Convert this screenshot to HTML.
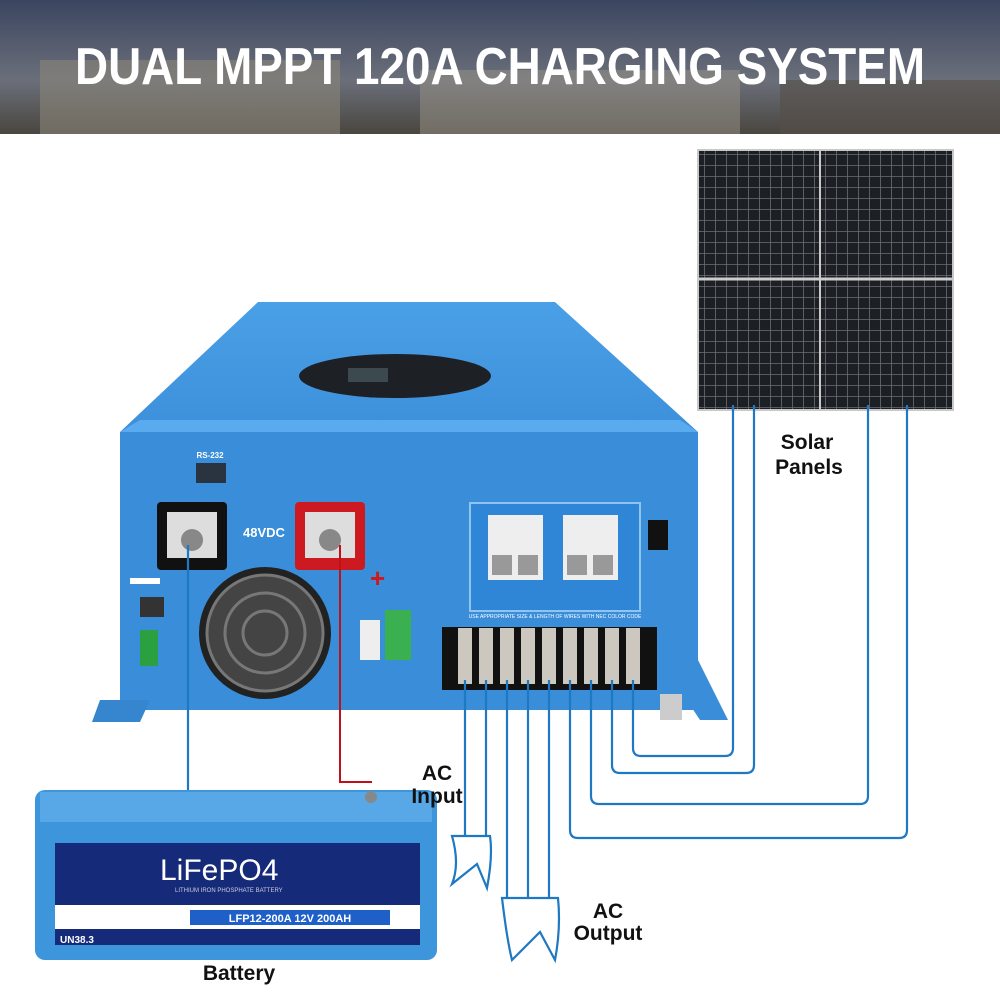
<!DOCTYPE html>
<html><head><style>
body{margin:0;width:1000px;height:1000px;overflow:hidden;background:#fff;font-family:"Liberation Sans",sans-serif}
</style></head><body>
<svg width="1000" height="1000" viewBox="0 0 1000 1000" xmlns="http://www.w3.org/2000/svg">
<defs>
<linearGradient id="sky" x1="0" y1="0" x2="0" y2="1"><stop offset="0" stop-color="#3a4560"/><stop offset="0.6" stop-color="#6b6f7a"/><stop offset="1" stop-color="#4a4640"/></linearGradient>
<linearGradient id="top" x1="0" y1="0" x2="0" y2="1"><stop offset="0" stop-color="#4aa0e6"/><stop offset="1" stop-color="#3d8fda"/></linearGradient>
<pattern id="cells" width="11" height="11" patternUnits="userSpaceOnUse"><rect width="11" height="11" fill="#1c1f24"/><path d="M0 0.5H11M0.5 0V11" stroke="#6a6e75" stroke-width="0.8"/></pattern>
</defs>
<rect width="1000" height="134" fill="url(#sky)"/>
<rect x="40" y="60" width="300" height="74" fill="#8a8578" opacity="0.6"/>
<rect x="420" y="70" width="320" height="64" fill="#9a9488" opacity="0.5"/>
<rect x="780" y="80" width="220" height="54" fill="#554f48" opacity="0.6"/>
<text x="75" y="84" textLength="850" lengthAdjust="spacingAndGlyphs" font-size="52" font-weight="bold" fill="#fff">DUAL MPPT 120A CHARGING SYSTEM</text>

<!-- solar panels -->
<rect x="698" y="150" width="122" height="260" fill="url(#cells)" stroke="#c8c8c8" stroke-width="2"/>
<rect x="820" y="150" width="133" height="260" fill="url(#cells)" stroke="#c8c8c8" stroke-width="2"/>
<line x1="698" y1="279" x2="953" y2="279" stroke="#ccc" stroke-width="3"/>

<!-- inverter -->
<polygon points="258,302 555,302 698,432 120,432" fill="url(#top)"/>
<polygon points="140,420 680,420 698,432 120,432" fill="#5aaaf0"/>
<ellipse cx="395" cy="376" rx="96" ry="22" fill="#1d2024"/>
<rect x="348" y="368" width="40" height="14" fill="#3c4a50"/>
<rect x="120" y="432" width="578" height="278" fill="#3a8dd9"/>
<polygon points="120,650 150,650 140,700 120,700" fill="#3a8dd9"/>
<polygon points="680,690 698,660 728,720 700,720" fill="#3a8dd9"/>
<polygon points="100,700 150,700 140,722 92,722" fill="#3585cf"/>
<rect x="196" y="463" width="30" height="20" fill="#2a3440"/>
<text x="210" y="458" text-anchor="middle" font-size="8" font-weight="bold" fill="#fff">RS-232</text>
<rect x="157" y="502" width="70" height="68" rx="4" fill="#111"/>
<rect x="167" y="512" width="50" height="46" fill="#ddd"/>
<circle cx="192" cy="540" r="11" fill="#888"/>
<rect x="295" y="502" width="70" height="68" rx="4" fill="#cc1a20"/>
<rect x="305" y="512" width="50" height="46" fill="#ddd"/>
<circle cx="330" cy="540" r="11" fill="#888"/>
<text x="243" y="537" font-size="13" font-weight="bold" fill="#fff">48VDC</text>
<text x="370" y="587" font-size="26" font-weight="bold" fill="#d01818">+</text>
<rect x="130" y="578" width="30" height="6" fill="#fff"/>
<rect x="140" y="597" width="24" height="20" fill="#333"/>
<rect x="140" y="630" width="18" height="36" fill="#2aa040"/>
<rect x="385" y="610" width="26" height="50" fill="#3ab050"/>
<rect x="360" y="620" width="20" height="40" fill="#eee"/>
<circle cx="265" cy="633" r="66" fill="#222"/>
<circle cx="265" cy="633" r="58" fill="#444" stroke="#777" stroke-width="3"/>
<circle cx="265" cy="633" r="40" fill="none" stroke="#777" stroke-width="3"/>
<circle cx="265" cy="633" r="22" fill="none" stroke="#777" stroke-width="3"/>
<!-- breakers -->
<rect x="470" y="503" width="170" height="108" fill="#2f86d6" stroke="#8fc4f0" stroke-width="2"/>
<rect x="488" y="515" width="55" height="65" fill="#eee"/>
<rect x="563" y="515" width="55" height="65" fill="#eee"/>
<rect x="492" y="555" width="20" height="20" fill="#999"/><rect x="518" y="555" width="20" height="20" fill="#999"/>
<rect x="567" y="555" width="20" height="20" fill="#999"/><rect x="593" y="555" width="20" height="20" fill="#999"/>
<rect x="648" y="520" width="20" height="30" fill="#111"/>
<text x="555" y="618" text-anchor="middle" font-size="5" fill="#fff">USE APPROPRIATE SIZE &amp; LENGTH OF WIRES WITH NEC COLOR CODE</text>
<!-- terminals -->
<rect x="442" y="627" width="215" height="63" fill="#111"/>
<g fill="#ccc8c0">
<rect x="458" y="628" width="14" height="56"/><rect x="479" y="628" width="14" height="56"/><rect x="500" y="628" width="14" height="56"/>
<rect x="521" y="628" width="14" height="56"/><rect x="542" y="628" width="14" height="56"/><rect x="563" y="628" width="14" height="56"/>
<rect x="584" y="628" width="14" height="56"/><rect x="605" y="628" width="14" height="56"/><rect x="626" y="628" width="14" height="56"/>
</g>
<rect x="660" y="694" width="22" height="26" fill="#ccc"/>

<!-- wires -->
<g fill="none" stroke="#1e78c2" stroke-width="2.2">
<path d="M188,545 V793"/>
<path d="M465,680 V836 M486,680 V836"/>
<path d="M507,680 V898 M528,680 V898 M549,680 V898"/>
<path d="M633,680 V748 q0,8 8,8 H725 q8,0 8,-8 V405"/>
<path d="M612,680 V765 q0,8 8,8 H746 q8,0 8,-8 V405"/>
<path d="M591,680 V796 q0,8 8,8 H860 q8,0 8,-8 V405"/>
<path d="M570,680 V830 q0,8 8,8 H899 q8,0 8,-8 V405"/>
<path d="M452,836 H490 q3,20 -3,52 l-10,-24 l-25,20 q8,-20 0,-48z"/>
<path d="M502,898 H558 q3,30 -3,62 l-15,-28 l-28,28 q-5,-20 -10,-62z"/>
</g>
<path d="M340,545 V782 H372" fill="none" stroke="#c01018" stroke-width="2"/>

<!-- battery -->
<rect x="35" y="790" width="402" height="170" rx="10" fill="#3d96dc"/>
<rect x="40" y="792" width="392" height="30" fill="#58a8e8"/>
<rect x="55" y="843" width="365" height="102" fill="#162a7a"/>
<rect x="55" y="905" width="365" height="24" fill="#fff"/>
<rect x="190" y="910" width="200" height="15" fill="#1e60c8"/>
<text x="290" y="922" text-anchor="middle" font-size="11" font-weight="bold" fill="#fff">LFP12-200A  12V 200AH</text>
<text x="160" y="880" font-size="30" fill="#fff">LiFePO4</text>
<text x="175" y="892" font-size="6" fill="#ccd">LITHIUM IRON PHOSPHATE BATTERY</text>
<text x="60" y="943" font-size="10" font-weight="bold" fill="#fff">UN38.3</text>
<circle cx="371" cy="797" r="6" fill="#888"/>

<g font-size="21" font-weight="bold" fill="#111" text-anchor="middle">
<text x="807" y="449">Solar</text><text x="809" y="474">Panels</text>
<text x="437" y="780">AC</text><text x="437" y="803">Input</text>
<text x="608" y="918">AC</text><text x="608" y="940">Output</text>
<text x="239" y="980">Battery</text>
</g>
</svg>
</body></html>
